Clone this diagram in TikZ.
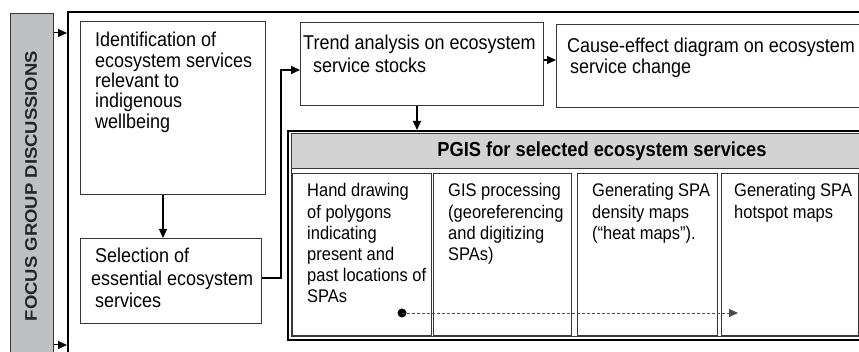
\documentclass[tikz,border=0pt]{standalone}
\usepackage{fontspec}
\setmainfont{Liberation Sans}[FakeStretch=0.9]
\newfontfamily\vfont{Liberation Sans}[FakeStretch=1.1]
\usetikzlibrary{arrows.meta}
\definecolor{bargray}{RGB}{190,191,194}
\definecolor{headgray}{RGB}{211,211,211}
\definecolor{boxline}{RGB}{55,55,55}
\begin{document}
\begin{tikzpicture}[x=1pt,y=-1pt,
  box/.style={draw=boxline,line width=1pt,inner sep=0pt,anchor=north west},
  conn/.style={draw=black,line width=1.4pt,-{Triangle[length=9pt,width=8pt]}},
  maintxt/.style={anchor=base west,inner sep=0pt,align=left},
  subtxt/.style={anchor=base west,inner sep=0pt,align=left,font=\fontsize{18.3}{21.2}\selectfont},
]
\useasboundingbox (0,0) rectangle (859,352);
\begin{scope}
\clip (0,0) rectangle (859,352);
% left bar and frame
\node[box,draw=boxline,fill=bargray,minimum width=43pt,minimum height=370pt] (bar) at (10,13) {};
\node[box,draw=black,line width=2pt,minimum width=860pt,minimum height=380pt] (frame) at (67,11) {};
% boxes
\node[box,minimum width=185pt,minimum height=173pt] (ident) at (80,21) {};
\node[box,minimum width=181pt,minimum height=85pt] (sel) at (80,238) {};
\node[box,minimum width=243pt,minimum height=83pt] (trend) at (300,22) {};
\node[box,minimum width=360pt,minimum height=83pt] (cause) at (556,24) {};
% PGIS
\node[box,draw=black,line width=2pt,minimum width=630pt,minimum height=209pt] (pgis) at (287,130) {};
\node[box,draw=boxline,line width=0.8pt,minimum width=627pt,minimum height=203pt] (pgisin) at (290.5,133.5) {};
\node[box,draw=boxline,line width=0.8pt,fill=headgray,minimum width=627pt,minimum height=34.5pt] (head) at (290.5,133.5) {};
\node[box,minimum width=139pt,minimum height=162pt] (s1) at (292,173) {};
\node[box,minimum width=138pt,minimum height=162pt] (s2) at (433,173) {};
\node[box,minimum width=140pt,minimum height=162pt] (s3) at (577,173) {};
\node[box,minimum width=137pt,minimum height=162pt] (s4) at (721,173) {};
% texts (base anchor = baseline of the last line)
\node[inner sep=0pt,rotate=90,font=\vfont\bfseries\fontsize{16.8}{18}\selectfont,text=black!85] (vt) at (31,186) {FOCUS GROUP DISCUSSIONS};
\node[maintxt,font=\fontsize{20}{20.3}\selectfont] (identt) at (95,128.2) {Identification of\\ecosystem services\\relevant to\\indigenous\\wellbeing};
\node[maintxt,font=\fontsize{20}{22.5}\selectfont] (selt) at (91,308) {\hspace*{4pt}Selection of\\essential ecosystem\\\hspace*{4pt}services};
\node[maintxt,font=\fontsize{20}{23}\selectfont] (trendt) at (303,73) {Trend analysis on ecosystem\\\hspace*{10pt}service stocks};
\node[maintxt,font=\fontsize{20}{21}\selectfont] (causet) at (567,74) {Cause-effect diagram on ecosystem\\\hspace*{3pt}service change};
\node[anchor=base,inner sep=0pt,font=\bfseries\fontsize{20.3}{22}\selectfont] (headt) at (602,157) {PGIS for selected ecosystem services};
\node[subtxt] (s1t) at (307,303) {Hand drawing\\of polygons\\indicating\\present and\\past locations of\\SPAs};
\node[subtxt] (s2t) at (448,260.6) {GIS processing\\(georeferencing\\and digitizing\\SPAs)};
\node[subtxt] (s3t) at (592,239.4) {Generating SPA\\density maps\\(“heat maps”).};
\node[subtxt] (s4t) at (734,218.2) {Generating SPA\\hotspot maps};
% connectors
\coordinate (c1) at (163,0);
\coordinate (bend) at (281,70);
\coordinate (c2) at (417,0);
\coordinate (ytop) at (0,33);
\coordinate (ybot) at (0,345);
\draw[conn] (ident.south -| c1) -- (sel.north -| c1);
\draw[conn,line width=1.8pt] (sel.east |- 0,278) -- (bend |- 0,278) -- (bend) -- (bend -| trend.west);
\draw[conn] (trend.east |- 0,60) -- (cause.west |- 0,60);
\draw[conn] (trend.south -| c2) -- (pgis.north -| c2);
\draw[conn,line width=1pt] (bar.east |- ytop) -- (frame.west |- ytop);
\draw[conn,line width=1pt] (bar.east |- ybot) -- (frame.west |- ybot);
\coordinate (ds) at (402,313);
\coordinate (de) at (738,313);
\fill[black] (ds) circle (4.5pt);
\draw[draw=black!70,line width=0.9pt,dash pattern=on 3pt off 2pt,-{Triangle[length=9pt,width=8pt]}] (ds) -- (de);
\end{scope}
\end{tikzpicture}
\end{document}
